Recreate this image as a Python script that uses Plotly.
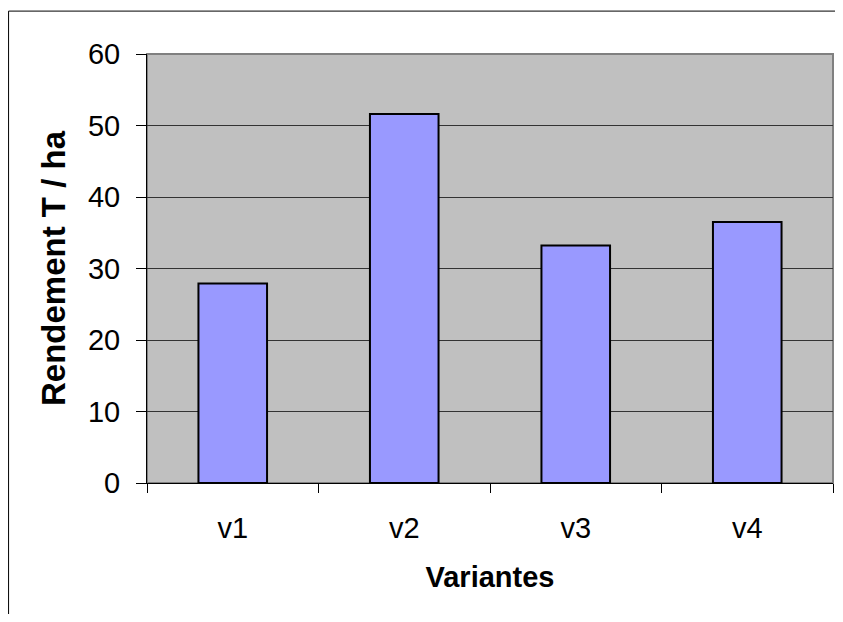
import plotly.graph_objects as go

categories = ["v1", "v2", "v3", "v4"]
rendement = [27.9, 51.6, 33.2, 36.5]
y_ticks = [0, 10, 20, 30, 40, 50, 60]

fig = go.Figure()
fig.add_trace(go.Bar(
    x=categories, y=rendement,
    marker=dict(color="#9999FF", line=dict(color="black", width=2)),
))

font_family = "Liberation Sans, Arial, sans-serif"

fig.update_layout(
    width=827, height=606,
    margin=dict(l=139, r=2, t=46, b=131, autoexpand=False),
    paper_bgcolor="white",
    plot_bgcolor="#C0C0C0",
    bargap=0.6,
    showlegend=False,
    font=dict(family=font_family, color="black", size=29),
    xaxis=dict(
        type="category",
        tickson="boundaries",
        ticks="outside", ticklen=9, tickcolor="black", tickwidth=1,
        showline=True, linecolor="black", linewidth=1,
        showgrid=False,
        tickfont=dict(size=29),
        ticklabelstandoff=19,
        title=dict(text="<b>Variantes</b>", font=dict(size=29), standoff=23),
        automargin=False,
    ),
    yaxis=dict(
        range=[0, 60],
        tickvals=y_ticks,
        ticks="outside", ticklen=10, tickcolor="black", tickwidth=1,
        showline=True, linecolor="black", linewidth=1,
        showgrid=True, gridcolor="#333333", gridwidth=1,
        zeroline=False,
        tickfont=dict(size=29),
        ticklabelstandoff=10,
        title=dict(text="<b>Rendement T / ha</b>", font=dict(size=33), standoff=12),
        automargin=False,
    ),
    shapes=[
        dict(type="rect", xref="paper", yref="paper", x0=0, x1=1, y0=0, y1=1,
             line=dict(color="#808080", width=2), layer="below"),
        dict(type="rect", xref="paper", yref="paper", x0=-0.2018, x1=1.2, y0=-0.5, y1=1.1,
             line=dict(color="black", width=1), layer="below"),
    ],
)

fig.write_html("out.html")
